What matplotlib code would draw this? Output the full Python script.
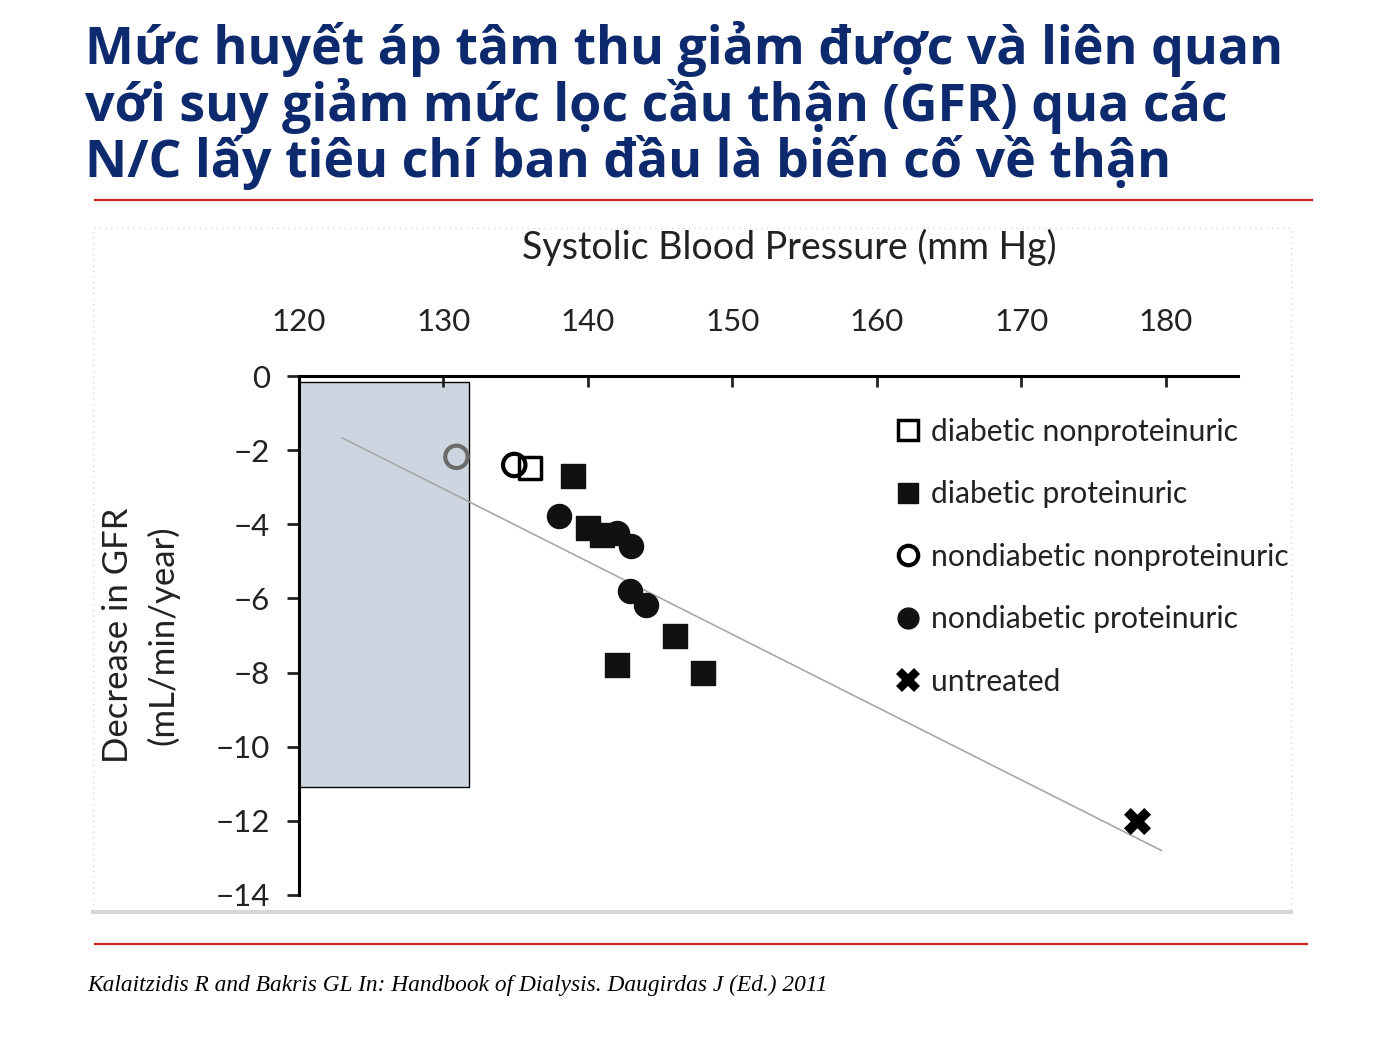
import numpy as np
import matplotlib
matplotlib.use('agg')
from matplotlib import pyplot as plt
from matplotlib.patches import Rectangle
from matplotlib.lines import Line2D

plt.rcParams['font.family'] = ['Lato', 'DejaVu Sans']

title_lines = ['Mức huyết áp tâm thu giảm được và liên quan',
               'với suy giảm mức lọc cầu thận (GFR) qua các',
               'N/C lấy tiêu chí ban đầu là biến cố về thận']
source = 'Kalaitzidis R and Bakris GL In: Handbook of Dialysis. Daugirdas J (Ed.) 2011'

x_ticks = [120, 130, 140, 150, 160, 170, 180]
y_ticks = [0, -2, -4, -6, -8, -10, -12, -14]

# data
dnp_x = [136.0]
dnp_y = [-2.48]
dp_x = [139.0, 140.0, 141.0, 142.0, 146.0, 148.0]
dp_y = [-2.7, -4.1, -4.3, -7.8, -7.0, -8.0]
ndnp_x = [130.9, 134.9]
ndnp_y = [-2.18, -2.4]
ndnp_edge = ['#6b6b6b', 'black']
ndp_x = [138.0, 142.0, 143.0, 142.9, 144.0]
ndp_y = [-3.77, -4.23, -4.58, -5.8, -6.17]
untr_x = [178.0]
untr_y = [-12.0]

fit_x = [123.0, 179.7]
fit_y = [-1.67, -12.8]

target_box = (120, 131.8, -11.1, -0.15)  # x0, x1, y0, y1

fig = plt.figure(figsize=(13.99, 10.49), dpi=100)

# title
navy = '#0d2a6e'
for i, line in enumerate(title_lines):
    fig.text(85/1399, 1 - (49 + i*56.5)/1049, line, fontsize=37.4, fontweight='bold',
             color=navy, va='center', ha='left', family=['Open Sans', 'DejaVu Sans'])

# red rules
fig.add_artist(Line2D([95/1399, 1312/1399], [1-200/1049]*2, color='#c8281e', lw=1.6))
fig.add_artist(Line2D([95/1399, 1307/1399], [1-944/1049]*2, color='#c8281e', lw=1.6))

# panel frame of the chart picture
fig.add_artist(Rectangle((93/1399, 1-912/1049), (1291-93)/1399, (912-228)/1049,
                         fill=False, ec='#d8d8d8', lw=1, ls=(0, (1, 3))))
fig.add_artist(Line2D([93/1399, 1291/1399], [1-912/1049]*2, color='#d6d6d6', lw=3))

fig.text(87/1399, 1-985/1049, source, fontsize=16.8, style='italic', va='center',
         ha='left', family=['Liberation Serif'])

ax = fig.add_axes([299/1399, 1-895/1049, (1238-299)/1399, (895-376)/1049])
ax.set_xlim(120, 185)
ax.set_ylim(-14, 0)

x0, x1, y0, y1 = target_box
ax.add_patch(Rectangle((x0, y0), x1-x0, y1-y0, fc='#cdd6e0', ec='black', lw=1, zorder=1))

ax.plot(fit_x, fit_y, color='#a8a8a8', lw=1.2, zorder=2)

ax.scatter(dnp_x, dnp_y, marker='s', s=240, facecolor='white', edgecolor='black', linewidths=2.5, zorder=3)
ax.scatter(dp_x, dp_y, marker='s', s=300, color='#111111', zorder=3)
ax.scatter(ndnp_x, ndnp_y, marker='o', s=260, facecolor='none', edgecolor=ndnp_edge, linewidths=3, zorder=4)
ax.scatter(ndp_x, ndp_y, marker='o', s=300, color='#111111', zorder=3)
ax.scatter(untr_x, untr_y, marker='X', s=380, color='black', linewidths=0, zorder=3)

for side in ['right', 'bottom']:
    ax.spines[side].set_visible(False)
for side in ['top', 'left']:
    ax.spines[side].set_linewidth(2.2)

ax.xaxis.set_ticks_position('top')
ax.xaxis.set_label_position('top')
ax.set_xticks(x_ticks)
ax.set_yticks(y_ticks)
ax.tick_params(axis='x', direction='in', length=8, width=2, pad=29, labelsize=22.5, colors='#222222')
ax.tick_params(axis='y', direction='out', length=9, width=2, pad=12, labelsize=22.5, colors='#222222')
ax.set_xlabel('Systolic Blood Pressure (mm Hg)', fontsize=27, color='#222222')
ax.xaxis.set_label_coords(0.522, 1.225)
ax.set_ylabel('Decrease in GFR\n(mL/min/year)', fontsize=25, labelpad=26, color='#222222',
              linespacing=1.45)

handles = [
    Line2D([], [], marker='s', ls='', ms=14, mfc='white', mec='black', mew=2.5),
    Line2D([], [], marker='s', ls='', ms=14, mfc='#111111', mec='#111111'),
    Line2D([], [], marker='o', ls='', ms=14, mfc='white', mec='black', mew=3),
    Line2D([], [], marker='o', ls='', ms=15, mfc='#111111', mec='#111111'),
    Line2D([], [], marker='X', ls='', ms=17, mfc='black', mec='black', mew=0),
]
labels = ['diabetic nonproteinuric', 'diabetic proteinuric', 'nondiabetic nonproteinuric',
          'nondiabetic proteinuric', 'untreated']
ax.legend(handles, labels, loc='upper left', bbox_to_anchor=(0.62, 0.943), frameon=False,
          fontsize=21.6, labelspacing=1.15, handletextpad=0.25, handlelength=1.0,
          borderaxespad=0, labelcolor='#222222')

fig.savefig('out.png', dpi=100)
